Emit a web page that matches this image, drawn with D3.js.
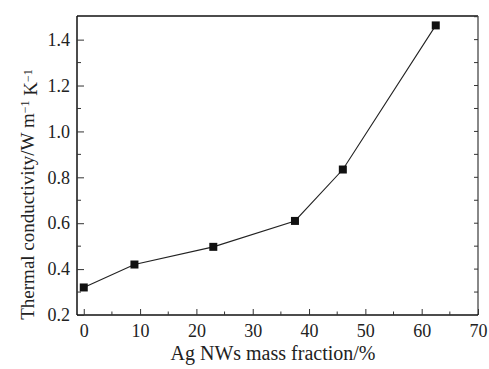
<!DOCTYPE html>
<html>
<head>
<meta charset="utf-8">
<script src="https://cdn.jsdelivr.net/npm/d3@7"></script>
<style>
  body { margin: 0; background: #fff; }
  svg text { font-family: "Liberation Serif", "Times New Roman", serif; fill: #222; }
</style>
</head>
<body>
<div id="chart"></div>
<script>
// data
const massFraction = [0, 9, 23, 37.5, 46, 62.5];
const conductivity = [0.32, 0.42, 0.497, 0.61, 0.834, 1.462];
const xTicks = [0, 10, 20, 30, 40, 50, 60, 70];
const yTicks = [0.2, 0.4, 0.6, 0.8, 1.0, 1.2, 1.4];

const W = 489, H = 369;
const margin = { top: 16, right: 11, bottom: 54, left: 77 };
const width = W - margin.left - margin.right;
const height = H - margin.top - margin.bottom;
const serif = '"Liberation Serif", "Times New Roman", serif';

const svg = d3.select('#chart').append('svg')
  .attr('width', W).attr('height', H)
  .append('g')
  .attr('transform', `translate(${margin.left},${margin.top})`);

const x = d3.scaleLinear().domain([-1.2, 70]).range([0, width]);
const y = d3.scaleLinear().domain([0.2, 1.503]).range([height, 0]);

// frame: top black, right grey
svg.append('line').attr('x1', 0).attr('x2', width).attr('y1', 0).attr('y2', 0)
  .attr('stroke', '#111').attr('stroke-width', 1.5);
svg.append('line').attr('x1', width).attr('x2', width).attr('y1', 0).attr('y2', height)
  .attr('stroke', '#888').attr('stroke-width', 2);

// right axis minor ticks (inward)
const rightTicks = d3.range(0.3, 1.501, 0.1);
svg.selectAll('.rtick').data(rightTicks).enter().append('line')
  .attr('x1', width).attr('x2', width - 4)
  .attr('y1', d => y(d)).attr('y2', d => y(d))
  .attr('stroke', '#333').attr('stroke-width', 1);

// bottom axis
const xAxis = svg.append('g').attr('transform', `translate(0,${height})`);
xAxis.call(d3.axisBottom(x).tickValues(xTicks).tickSizeInner(-6).tickSizeOuter(0).tickPadding(9)
  .tickFormat(d3.format('d')));
xAxis.attr('font-family', serif).attr('font-size', 18);
xAxis.selectAll('.tick line').attr('stroke', '#333');
xAxis.select('.domain').attr('stroke', '#111').attr('stroke-width', 1.5)
  .attr('d', `M0,0H${width}`);
xAxis.selectAll('text').attr('fill', '#222').style('font-family', serif).style('font-size', '18px');
xAxis.selectAll('.minor').data(d3.range(5, 70, 10)).enter().append('line')
  .attr('class', 'minor')
  .attr('x1', d => x(d)).attr('x2', d => x(d))
  .attr('y1', 0).attr('y2', -3.5)
  .attr('stroke', '#333');

// left axis
const yAxis = svg.append('g');
yAxis.call(d3.axisLeft(y).tickValues(yTicks).tickSizeInner(-7).tickSizeOuter(0).tickPadding(7)
  .tickFormat(d3.format('.1f')));
yAxis.attr('font-family', serif).attr('font-size', 18);
yAxis.selectAll('.tick line').attr('stroke', '#333');
yAxis.select('.domain').attr('stroke', '#111').attr('stroke-width', 1.5)
  .attr('d', `M0,${height}V0`);
yAxis.selectAll('text').attr('fill', '#222').style('font-family', serif).style('font-size', '18px');
yAxis.selectAll('.minor').data(d3.range(0.3, 1.45, 0.2)).enter().append('line')
  .attr('class', 'minor')
  .attr('x1', 0).attr('x2', 4)
  .attr('y1', d => y(d)).attr('y2', d => y(d))
  .attr('stroke', '#333');

// axis titles
svg.append('text')
  .attr('x', 196)
  .attr('y', height + 45)
  .attr('text-anchor', 'middle')
  .style('font-size', '20px')
  .text('Ag NWs mass fraction/%');

const yt = svg.append('text')
  .attr('transform', `translate(${-margin.left + 34},${height / 2 + 29}) rotate(-90)`)
  .attr('text-anchor', 'middle')
  .style('font-size', '19px');
yt.append('tspan').text('Thermal conductivity/W m');
yt.append('tspan').attr('dy', '-0.45em').style('font-size', '12px').text('\u22121');
yt.append('tspan').attr('dy', '0.45em').text(' K');
yt.append('tspan').attr('dy', '-0.45em').style('font-size', '12px').text('\u22121');

// line + markers
const pts = massFraction.map((m, i) => ({ m: m, k: conductivity[i] }));
const line = d3.line().x(d => x(d.m)).y(d => y(d.k));
svg.append('path').datum(pts)
  .attr('fill', 'none').attr('stroke', '#222').attr('stroke-width', 1.1)
  .attr('d', line);

svg.selectAll('.pt').data(pts).enter().append('rect')
  .attr('class', 'pt')
  .attr('x', d => x(d.m) - 4).attr('y', d => y(d.k) - 4)
  .attr('width', 8).attr('height', 8)
  .attr('fill', '#111');
</script>
</body>
</html>
